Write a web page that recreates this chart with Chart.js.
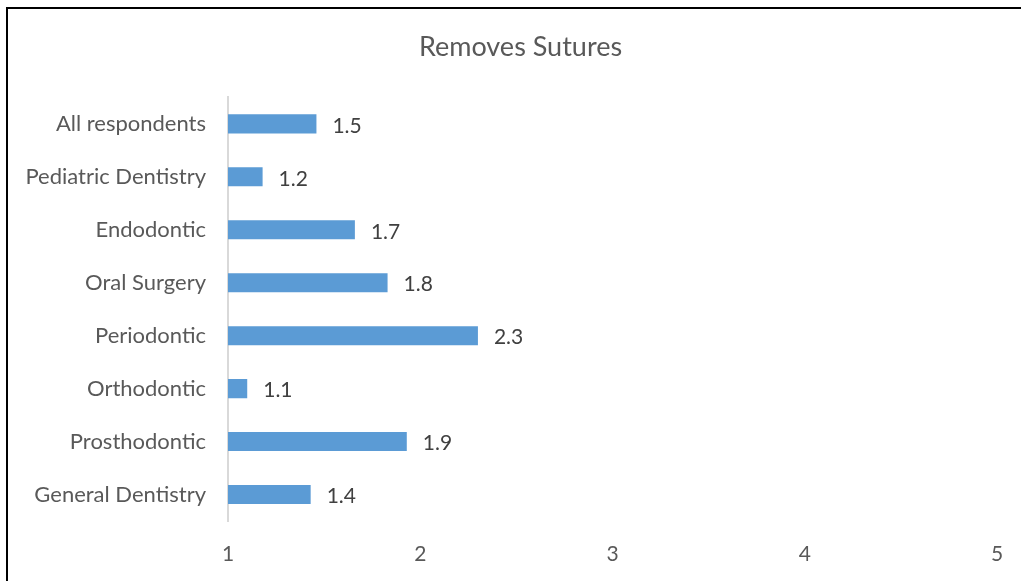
<!DOCTYPE html>
<html>
<head>
<meta charset="utf-8">
<script src="https://cdn.jsdelivr.net/npm/chart.js@4"></script>
<style>
    html, body { margin: 0; padding: 0; background: #fff; }
    #wrap { position: relative; width: 1021px; height: 581px; overflow: hidden; }
    #frame {
        position: absolute; left: 6px; top: 7px; width: 1100px; height: 700px;
        border-left: 2px solid #000; border-top: 2px solid #000;
    }
    canvas { position: absolute; left: 0; top: 0; }
</style>
</head>
<body>
<div id="wrap">
    <div id="frame"></div>
    <canvas id="suturesChart" width="1021" height="581"></canvas>
</div>
<script>
// Categories (top to bottom) and values
const categories = ['All respondents', 'Pediatric Dentistry', 'Endodontic', 'Oral Surgery',
    'Periodontic', 'Orthodontic', 'Prosthodontic', 'General Dentistry'];
const values = [1.46, 1.18, 1.66, 1.83, 2.30, 1.10, 1.93, 1.43];
const xTicks = [1, 2, 3, 4, 5];

const fontFamily = 'Lato, "Open Sans", sans-serif';

// Draw value labels at the end of each bar
const valueLabels = {
    id: 'valueLabels',
    afterDatasetsDraw(chart) {
        const ctx = chart.ctx;
        const meta = chart.getDatasetMeta(0);
        ctx.save();
        ctx.font = '21px ' + fontFamily;
        ctx.fillStyle = '#404040';
        ctx.textAlign = 'left';
        ctx.textBaseline = 'middle';
        meta.data.forEach((bar, i) => {
            ctx.fillText(values[i].toFixed(1), bar.x + 16, bar.y + 2);
        });
        ctx.restore();
    }
};

// Title in the original sits a bit right of the canvas centre
const shiftTitle = {
    id: 'shiftTitle',
    afterLayout(chart) {
        if (chart.titleBlock) {
            chart.titleBlock.left += 17;
            chart.titleBlock.right += 17;
        }
    }
};

document.addEventListener('DOMContentLoaded', function() {
    const ctx = document.getElementById('suturesChart').getContext('2d');
    new Chart(ctx, {
        type: 'bar',
        data: {
            labels: categories,
            datasets: [{
                data: values,
                backgroundColor: '#5B9BD5',
                borderWidth: 0,
                barPercentage: 0.36,
                categoryPercentage: 1
            }]
        },
        options: {
            indexAxis: 'y',
            responsive: false,
            animation: false,
            layout: { padding: { left: 10, right: 24, top: 0, bottom: 0 } },
            plugins: {
                legend: { display: false },
                tooltip: { enabled: false },
                title: {
                    display: true,
                    text: 'Removes Sutures',
                    color: '#595959',
                    font: { family: fontFamily, size: 27, weight: 'normal' },
                    padding: { top: 31, bottom: 34 }
                }
            },
            scales: {
                x: {
                    min: 1,
                    max: 5,
                    afterBuildTicks(scale) {
                        scale.ticks = xTicks.map(v => ({ value: v }));
                    },
                    afterFit(scale) { scale.height = 60; },
                    grid: { display: false },
                    border: { display: false },
                    ticks: {
                        color: '#595959',
                        padding: 13,
                        font: { family: fontFamily, size: 21 }
                    }
                },
                y: {
                    grid: { display: false },
                    border: { display: true, color: '#D9D9D9', width: 2 },
                    afterFit(scale) { scale.width = 218; },
                    ticks: {
                        color: '#595959',
                        padding: 14,
                        font: { family: fontFamily, size: 22 }
                    }
                }
            }
        },
        plugins: [valueLabels, shiftTitle]
    });
});
</script>
</body>
</html>
